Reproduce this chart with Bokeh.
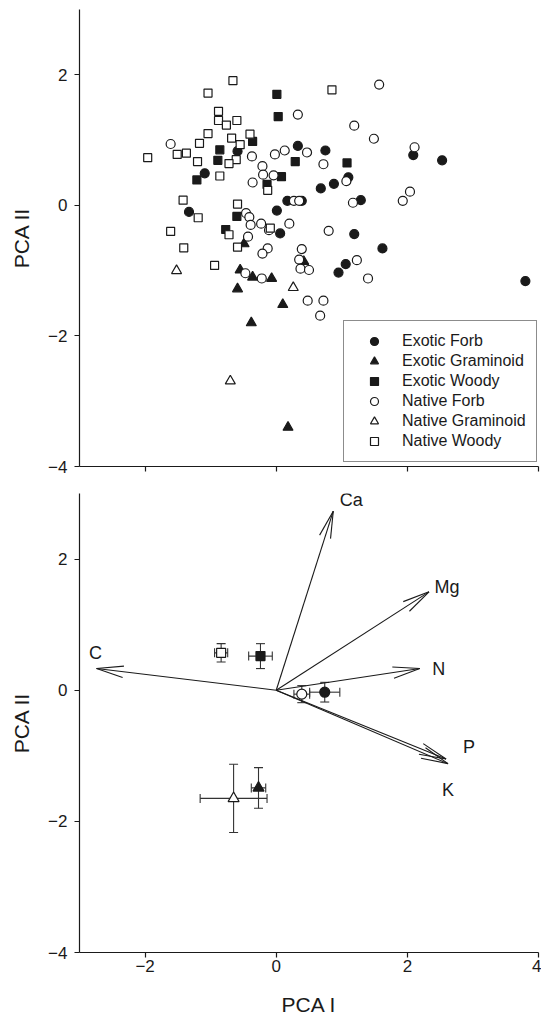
import math
from bokeh.plotting import figure
from bokeh.layouts import column
from bokeh.models import (ColumnDataSource, FixedTicker, Legend, LegendItem, Label,
                          Whisker, TeeHead, Range1d)
from bokeh.core.properties import value
from bokeh.embed import file_html
from bokeh.resources import INLINE

FONT = "Liberation Sans"
INK = "#1a1a1a"

# ---------------- data: panel (a) species scores ----------------
exotic_forb_x = [-1.09, -0.59, 0.33, 0.17, 0.39, -1.33, 0.01, 0.06, 0.75, 2.09, 2.53, 1.10, 0.88, 0.68, 1.29, 1.19, 1.62, 1.06, 0.95, 3.80]
exotic_forb_y = [0.49, 0.83, 0.91, 0.07, 0.07, -0.10, -0.08, -0.43, 0.84, 0.77, 0.69, 0.43, 0.33, 0.26, 0.08, -0.44, -0.66, -0.90, -1.03, -1.16]

exotic_gram_x = [-0.49, -0.55, -0.36, -0.07, -0.59, 0.10, -0.38, 0.18, 0.42]
exotic_gram_y = [-0.59, -0.99, -1.10, -1.12, -1.28, -1.52, -1.80, -3.40, -0.86]

exotic_woody_x = [-1.21, -0.86, -0.89, -0.36, 0.01, 0.03, 0.29, 0.08, -0.14, -0.60, -0.77, 1.08]
exotic_woody_y = [0.39, 0.85, 0.69, 0.98, 1.70, 1.36, 0.67, 0.44, 0.32, -0.17, -0.37, 0.65]

native_forb_x = [-1.61, -0.37, 0.33, 0.47, 0.13, -0.02, -0.21, -0.20, -0.04, -0.36, 0.27, 0.35, -0.46, -0.41,
                 -0.39, -0.23, -0.11, 0.20, -0.43, -0.13, -0.21, 0.39, 0.35, 0.37, 0.50, -0.47, -0.22, 0.48,
                 0.72, 0.67, 1.57, 1.19, 1.49, 2.11, 0.72, 1.07, 2.04, 1.93, 1.17, 0.80, 1.23, 1.40]
native_forb_y = [0.94, 0.75, 1.39, 0.81, 0.84, 0.78, 0.60, 0.47, 0.46, 0.35, 0.07, 0.07, -0.12, -0.18,
                 -0.30, -0.28, -0.38, -0.28, -0.48, -0.66, -0.74, -0.67, -0.83, -0.97, -0.99, -1.04, -1.12, -1.46,
                 -1.46, -1.69, 1.85, 1.22, 1.02, 0.89, 0.63, 0.37, 0.21, 0.07, 0.04, -0.39, -0.84, -1.12]

native_gram_x = [-1.52, 0.26, -0.70]
native_gram_y = [-1.00, -1.26, -2.69]

native_woody_x = [-1.96, -1.51, -1.37, -1.20, -1.17, -1.04, -1.04, -0.88, -0.88, -0.76, -0.60, -0.66, -0.68,
                  -0.55, -0.61, -0.72, -0.86, -0.40, -0.13, -1.42, -1.19, -1.61, -0.59, -0.72, -0.09, -1.41,
                  -0.59, -0.94, 0.85]
native_woody_y = [0.73, 0.78, 0.80, 0.67, 0.95, 1.10, 1.72, 1.44, 1.30, 1.23, 1.30, 1.91, 1.03,
                  0.93, 0.70, 0.64, 0.45, 1.09, 0.23, 0.08, -0.19, -0.40, 0.02, -0.45, -0.35, -0.65,
                  -0.64, -0.92, 1.77]

group_names = ["Exotic Forb", "Exotic Graminoid", "Exotic Woody",
               "Native Forb", "Native Graminoid", "Native Woody"]

# ---------------- data: panel (b) group means +/- SE ----------------
mean_x = [0.74, -0.27, -0.24, 0.39, -0.65, -0.84]
mean_y = [-0.03, -1.49, 0.52, -0.06, -1.65, 0.57]
se_x = [0.23, 0.11, 0.18, 0.12, 0.51, 0.10]
se_y = [0.15, 0.31, 0.19, 0.13, 0.52, 0.14]

# element loading vectors
vec_names = ["C", "Ca", "Mg", "N", "P", "K"]
vec_x = [-2.74, 0.87, 2.33, 2.19, 2.59, 2.62]
vec_y = [0.33, 2.73, 1.50, 0.33, -1.05, -1.12]

# ticks
x_ticks = [-2, 0, 2, 4]
x_tick_labels = ["\u22122", "0", "2", "4"]
y_ticks = [-4, -2, 0, 2]
y_tick_labels = ["\u22124", "\u22122", "0", "2"]

# ---------------- styles ----------------
markers = ["circle", "triangle", "square", "circle", "triangle", "square"]
fills = [INK, INK, INK, "white", "white", "white"]
sizes = [9, 10, 8, 9, 10, 8]
mean_sizes = [10, 11, 9, 10, 11, 9]


def make_fig(frame_h, top, bottom, show_x_labels):
    p = figure(frame_width=459, frame_height=frame_h,
               x_range=Range1d(-3, 4), y_range=Range1d(-4, 3),
               output_backend="svg", toolbar_location=None,
               min_border_left=79, min_border_right=3,
               min_border_top=top, min_border_bottom=bottom)
    p.outline_line_color = None
    p.grid.visible = False
    p.background_fill_color = "white"
    p.border_fill_color = "white"
    for ax in (p.xaxis[0], p.yaxis[0]):
        ax.axis_line_color = INK
        ax.axis_line_width = 1.2
        ax.major_tick_line_color = INK
        ax.major_tick_line_width = 1.2
        ax.major_tick_out = 5
        ax.major_tick_in = 0
        ax.minor_tick_line_color = None
        ax.major_label_text_font = FONT
        ax.major_label_text_font_size = "17px"
        ax.major_label_text_color = INK
        ax.axis_label_text_font = FONT
        ax.axis_label_text_font_size = "21px"
        ax.axis_label_text_font_style = "normal"
        ax.axis_label_text_color = INK
    p.xaxis.ticker = FixedTicker(ticks=x_ticks)
    p.yaxis.ticker = FixedTicker(ticks=y_ticks)
    p.yaxis.major_label_overrides = {t: s for t, s in zip(y_ticks, y_tick_labels)}
    p.yaxis.major_label_standoff = 7
    p.yaxis.axis_label = "PCA II"
    p.yaxis.axis_label_standoff = 12
    if show_x_labels:
        p.xaxis.major_label_overrides = {t: s for t, s in zip(x_ticks, x_tick_labels)}
        p.xaxis.major_label_standoff = 2
        p.xaxis.axis_label = "PCA I"
        p.xaxis.axis_label_standoff = 18
    else:
        p.xaxis.major_label_text_color = None
    return p


# ================= panel (a) =================
pa = make_fig(457, 9, 14, False)
series = [(exotic_forb_x, exotic_forb_y), (exotic_gram_x, exotic_gram_y), (exotic_woody_x, exotic_woody_y),
          (native_forb_x, native_forb_y), (native_gram_x, native_gram_y), (native_woody_x, native_woody_y)]
renderers = []
for (xs, ys), m, f, s in zip(series, markers, fills, sizes):
    r = pa.scatter(xs, ys, marker=m, size=s, fill_color=f, line_color=INK, line_width=1.2)
    renderers.append(r)

legend = Legend(items=[LegendItem(label=n, renderers=[r]) for n, r in zip(group_names, renderers)],
                location=(264, 4), margin=0, padding=10, spacing=0,
                glyph_width=40, glyph_height=20, label_height=20, label_standoff=8,
                label_text_font=FONT, label_text_font_size="16px", label_text_color=INK,
                border_line_color=INK, border_line_width=1.2,
                background_fill_color="white", background_fill_alpha=1.0)
pa.add_layout(legend)
pa.add_layout(Label(x=-3.81, y=2.88, text="(a)", text_font=FONT, text_font_size="19px",
                    text_align="center", text_baseline="middle", text_color=INK))

# ================= panel (b) =================
pb = make_fig(459, 13, 65, True)

# vectors from the origin
n = len(vec_names)
pb.segment(x0=[0] * n, y0=[0] * n, x1=vec_x, y1=vec_y, line_color=INK, line_width=1.1)
# open arrow heads (long, narrow)
head_len = 0.42
half_ang = math.radians(12)
bx0, by0, bx1, by1 = [], [], [], []
for vx, vy in zip(vec_x, vec_y):
    L = math.hypot(vx, vy)
    ux, uy = vx / L, vy / L
    for a in (half_ang, -half_ang):
        rx = ux * math.cos(a) - uy * math.sin(a)
        ry = ux * math.sin(a) + uy * math.cos(a)
        bx0.append(vx)
        by0.append(vy)
        bx1.append(vx - head_len * rx)
        by1.append(vy - head_len * ry)
pb.segment(x0=bx0, y0=by0, x1=bx1, y1=by1, line_color=INK, line_width=1.1)

label_dx = [-1, 18, 18, 19, 23, 0]
label_dy = [-16, -11, -5, 0, -12, 26]
pb.text(x=vec_x, y=vec_y, text=vec_names, x_offset=label_dx, y_offset=label_dy,
        text_font=value(FONT), text_font_size="18px", text_color=INK,
        text_align="center", text_baseline="middle")

# error bars
src = ColumnDataSource(dict(
    x=mean_x, y=mean_y,
    xl=[m - e for m, e in zip(mean_x, se_x)], xu=[m + e for m, e in zip(mean_x, se_x)],
    yl=[m - e for m, e in zip(mean_y, se_y)], yu=[m + e for m, e in zip(mean_y, se_y)],
))
pb.add_layout(Whisker(source=src, base="x", lower="yl", upper="yu", dimension="height",
                      line_color="#333333", line_width=1.1,
                      upper_head=TeeHead(size=9, line_color="#333333", line_width=1.1),
                      lower_head=TeeHead(size=9, line_color="#333333", line_width=1.1)))
pb.add_layout(Whisker(source=src, base="y", lower="xl", upper="xu", dimension="width",
                      line_color="#333333", line_width=1.1,
                      upper_head=TeeHead(size=9, line_color="#333333", line_width=1.1),
                      lower_head=TeeHead(size=9, line_color="#333333", line_width=1.1)))

for i in range(len(group_names)):
    pb.scatter([mean_x[i]], [mean_y[i]], marker=markers[i], size=mean_sizes[i],
               fill_color=fills[i], line_color=INK, line_width=1.2)

pb.add_layout(Label(x=-3.78, y=2.85, text="(b)", text_font=FONT, text_font_size="19px",
                    text_align="center", text_baseline="middle", text_color=INK))

layout = column(pa, pb, spacing=0)
open("out.html", "w").write(file_html(layout, INLINE))
